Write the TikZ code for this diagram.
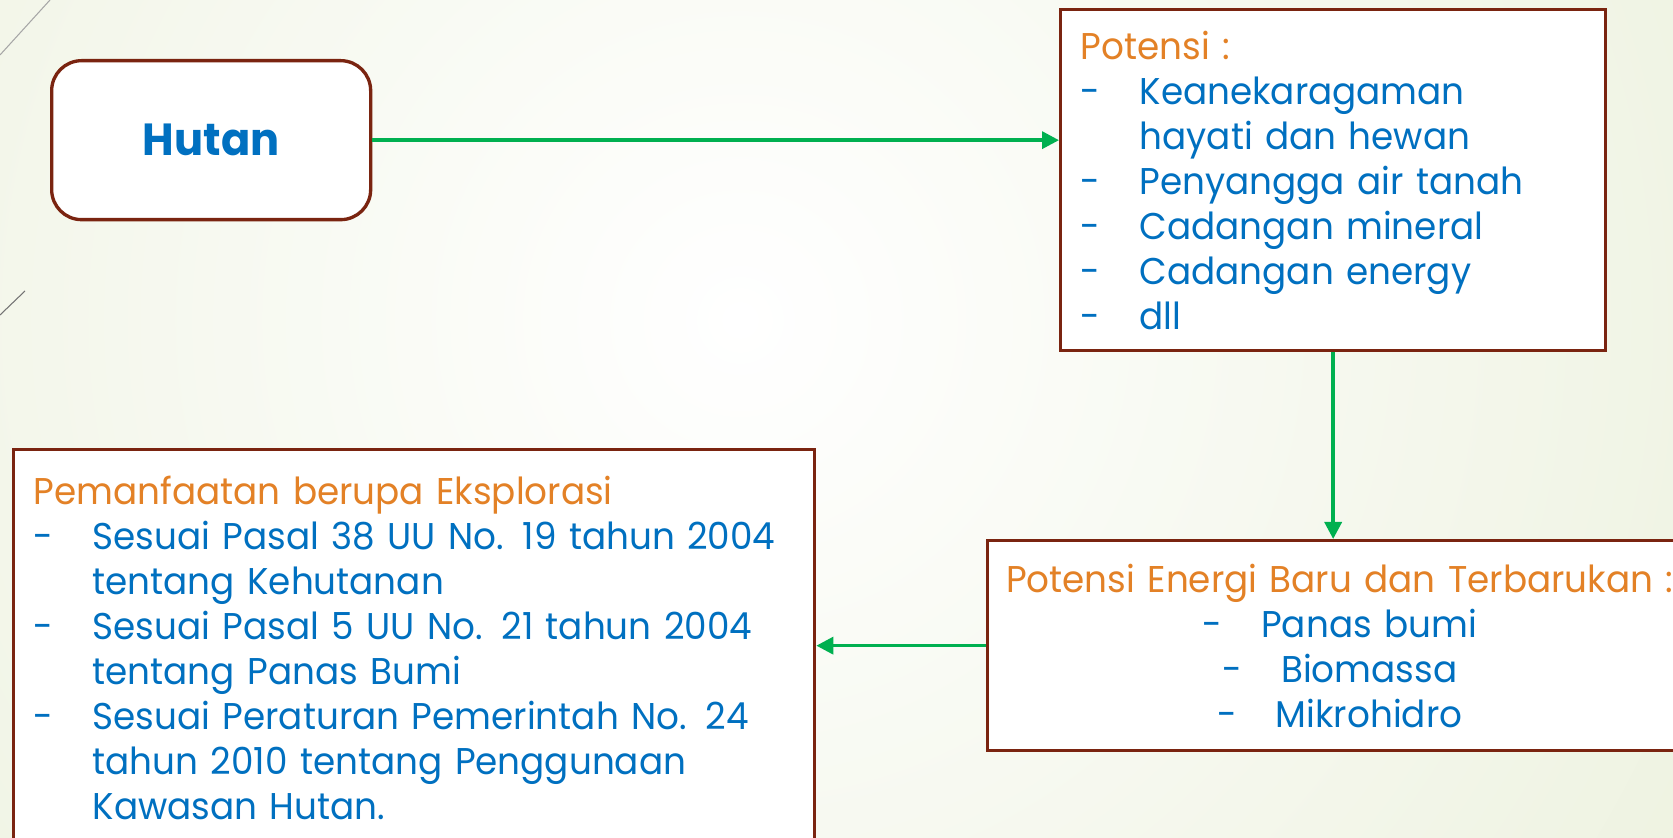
\documentclass[tikz,border=0pt]{standalone}
\usepackage{fontspec}
\setmainfont{Poppins}[FakeStretch=0.96]
\usetikzlibrary{arrows.meta}
\definecolor{batas}{RGB}{122,36,16}
\definecolor{biru}{RGB}{0,112,192}
\definecolor{oranye}{RGB}{227,129,38}
\definecolor{hijau}{RGB}{0,176,80}
\definecolor{latar}{RGB}{224,232,200}
\newcommand{\strip}{\makebox[0.59cm][l]{-}}
\newcommand{\gantung}{\hspace*{0.59cm}}

\begin{document}
\begin{tikzpicture}
  \tikzstyle{kotak}=[draw=batas,line width=0.95pt,fill=white,anchor=north west,inner xsep=0.2cm,inner ysep=0pt,text=biru,font=\fontsize{10.6pt}{12.8pt}\selectfont]
  \tikzstyle{panah}=[draw=hijau,line width=1pt,-{Triangle[length=0.17cm,width=0.17cm,fill=hijau]}]
  \useasboundingbox (0,0) rectangle (16.73,-8.38);
  \clip (0,0) rectangle (16.73,-8.38);
  % latar belakang
  \shade[inner color=white,outer color=latar] (7.4,-3.2) circle (20);
  \draw[gray!70,line width=0.3pt] (0,-0.55) -- (0.50,0);
  \draw[gray!90!black,line width=0.3pt] (0,-3.15) -- (0.25,-2.91);

  \node[kotak,rounded corners=0.3cm,minimum width=3.19cm,minimum height=1.59cm,font=\fontsize{12.8pt}{16pt}\selectfont\bfseries] (hutan) at (0.50,-0.59) {Hutan};

  \node[kotak,minimum width=5.45cm,minimum height=3.41cm,text width=5.05cm,align=left] (potensi) at (10.59,-0.08)
    {\textcolor{oranye}{Potensi :}\\
     \strip Keanekaragaman\\
     \gantung hayati dan hewan\\
     \strip Penyangga air tanah\\
     \strip Cadangan mineral\\
     \strip Cadangan energy\\
     \strip dll};

  \node[kotak,inner xsep=0.1cm,minimum width=7.04cm,minimum height=2.10cm,text width=6.84cm,align=center] (energi) at (9.86,-5.39)
    {\textcolor{oranye}{Potensi Energi Baru dan Terbarukan :}\\
     \strip Panas bumi\\
     \strip Biomassa\\
     \strip Mikrohidro};

  \node[kotak,minimum width=8.01cm,minimum height=3.97cm,text width=7.61cm,align=left] (manfaat) at (0.12,-4.48)
    {\textcolor{oranye}{Pemanfaatan berupa Eksplorasi}\\
     \strip Sesuai Pasal 38 UU No. 19 tahun 2004\\
     \gantung tentang Kehutanan\\
     \strip Sesuai Pasal 5 UU No. 21 tahun 2004\\
     \gantung tentang Panas Bumi\\
     \strip Sesuai Peraturan Pemerintah No. 24\\
     \gantung tahun 2010 tentang Penggunaan\\
     \gantung Kawasan Hutan.};

  \draw[panah] (hutan.east) -- (hutan.east -| potensi.west);
  \draw[panah] (potensi.south) -- (potensi.south |- energi.north);
  \draw[panah] (energi.west) -- (energi.west -| manfaat.east);
\end{tikzpicture}
\end{document}
